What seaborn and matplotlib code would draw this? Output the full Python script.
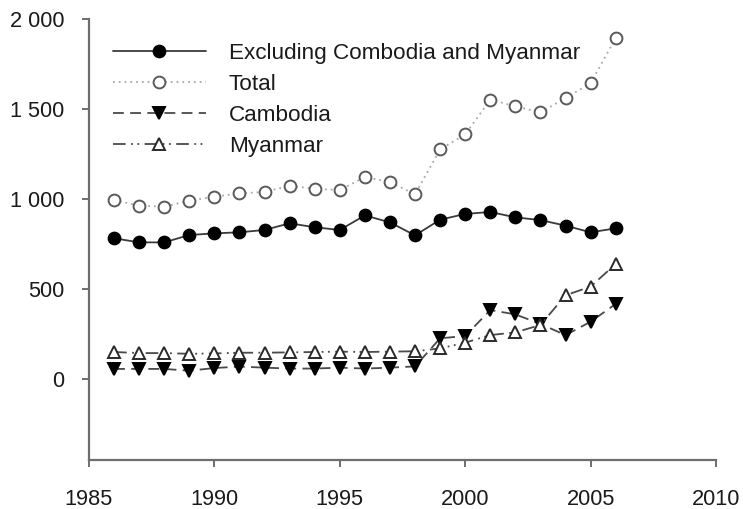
import matplotlib
matplotlib.use("Agg")
import matplotlib.pyplot as plt
from matplotlib.ticker import FuncFormatter, FixedLocator
import seaborn as sns
import pandas as pd

years = list(range(1986, 2007))
excl_cam_mya = [782, 759, 759, 800, 809, 815, 828, 865, 843, 828, 909, 870, 798,
                885, 917, 928, 898, 883, 852, 815, 837]
total = [994, 963, 957, 991, 1013, 1031, 1039, 1074, 1056, 1050, 1122, 1094, 1026,
         1276, 1359, 1552, 1515, 1481, 1561, 1643, 1894]
cambodia = [56, 56, 56, 46, 61, 69, 63, 58, 58, 63, 58, 63, 70,
            226, 239, 383, 359, 306, 244, 318, 417]
myanmar = [150, 144, 144, 140, 142, 146, 146, 148, 150, 152, 150, 152, 154,
           170, 202, 244, 259, 300, 465, 513, 639]

labels = ["Excluding Combodia and Myanmar", "Total", "Cambodia", "Myanmar"]
x_ticks = [1985, 1990, 1995, 2000, 2005, 2010]
y_ticks = [0, 500, 1000, 1500, 2000]

sns.set_style("white")
plt.rcParams["font.family"] = ["Liberation Sans", "DejaVu Sans"]

fig = plt.figure(figsize=(7.43, 5.09), dpi=100)
ax = fig.add_axes([89 / 743, 1 - 460 / 509, (716 - 89) / 743, (460 - 19) / 509])

series = {
    labels[0]: excl_cam_mya,
    labels[1]: total,
    labels[2]: cambodia,
    labels[3]: myanmar,
}
styles = {
    labels[0]: dict(color="#3a3a3a", linestyle="-", marker="o",
                    markerfacecolor="black", markeredgecolor="black"),
    labels[1]: dict(color="#a8a8a8", linestyle=(0, (1, 2.2)), marker="o",
                    markerfacecolor="white", markeredgecolor="#5a5a5a"),
    labels[2]: dict(color="#4a4a4a", linestyle=(0, (6, 3.5)), marker="v",
                    markerfacecolor="black", markeredgecolor="black"),
    labels[3]: dict(color="#4a4a4a", linestyle=(0, (7, 3, 1, 2.5, 1, 3)), marker="^",
                    markerfacecolor="white", markeredgecolor="#2a2a2a"),
}

for name, vals in series.items():
    df = pd.DataFrame({"year": years, "value": vals})
    sns.lineplot(data=df, x="year", y="value", ax=ax, label=name,
                 linewidth=1.3, markersize=8.5, markeredgewidth=1.4,
                 **styles[name])

ax.set_xlim(1985, 2010)
ax.set_ylim(-450, 2000)
ax.xaxis.set_major_locator(FixedLocator(x_ticks))
ax.yaxis.set_major_locator(FixedLocator(y_ticks))
ax.yaxis.set_major_formatter(FuncFormatter(lambda v, p: f"{int(v):,}".replace(",", " ")))
ax.set_xlabel("")
ax.set_ylabel("")

for side in ("top", "right"):
    ax.spines[side].set_visible(False)
for side in ("left", "bottom"):
    ax.spines[side].set_color("#6e6e6e")
    ax.spines[side].set_linewidth(1.6)

ax.tick_params(axis="both", which="major", direction="out", length=5, width=1.4,
               color="#6e6e6e", labelsize=15.7, labelcolor="#1a1a1a",
               left=True, bottom=True)
ax.tick_params(axis="x", pad=16)
ax.tick_params(axis="y", pad=13)

leg = ax.legend(loc="upper left", bbox_to_anchor=(113 / 743, 1 - 43 / 509),
                bbox_transform=fig.transFigure, frameon=False, fontsize=16.2,
                handlelength=4.13, handletextpad=1.02, labelspacing=0.44,
                borderpad=0, borderaxespad=0)
for t in leg.get_texts():
    t.set_color("#1a1a1a")

fig.savefig("out.png", dpi=100)
